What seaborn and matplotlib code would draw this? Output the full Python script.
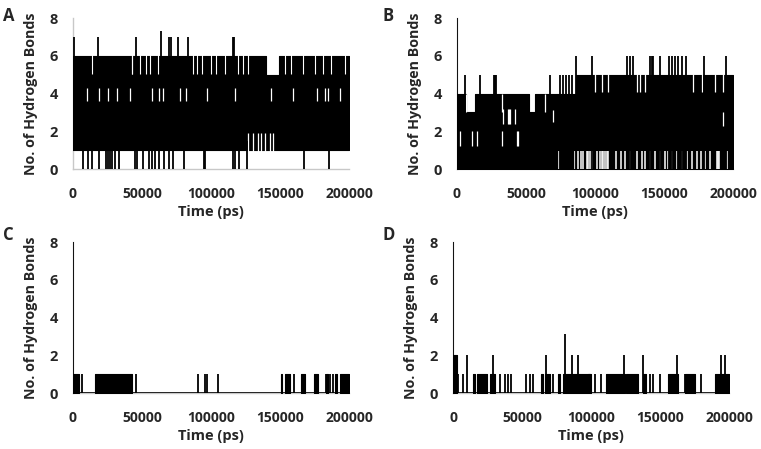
import numpy as np
import matplotlib
matplotlib.use("Agg")
import matplotlib.pyplot as plt
import seaborn as sns

# -----------------------------
# Values (time in ps, counts of H-bonds)
# -----------------------------
time_ticks = [0, 50000, 100000, 150000, 200000]
hb_ticks = [0, 2, 4, 6, 8]

# Panel A: dense band between low/high, spikes above, dips to zero, white gaps
a_band_start = [0, 139600, 149500]
a_band_end = [139600, 149500, 200000]
a_band_low = [1, 1, 1]
a_band_high = [6, 5, 6]
a_spike_t = [700, 18300, 45600, 64100, 69500, 71000, 76400, 83600, 115600, 116400]
a_spike_v = [7, 7, 7, 7.3, 7, 7, 7, 7, 7, 7]
a_dip_t = [7000, 11100, 13500, 19100, 23900, 25600, 26800, 28300, 30400, 33600,
           44900, 46200, 50500, 55100, 57500, 59400, 62500, 66200, 69800, 72700,
           80700, 95100, 95700, 116200, 117600, 120500, 125900, 167600, 185700]
a_gap_mid_t = [10400, 19100, 25600, 32100, 41300, 57000, 62500, 65000, 77500, 81900,
               96900, 117400, 143300, 159200, 176600, 182600, 185000, 193500]
a_gap_top_t = [13500, 42500, 43000, 48600, 52900, 55800, 61800, 86700, 89600, 93300,
               100200, 103900, 109900, 119600, 123200, 126800, 153400, 158200,
               166700, 175100, 181200, 187200, 196900]
a_gap_low_t = [126800, 130400, 134100, 136000, 139300, 142500, 144900]

# Panel B
b_band_start = [0, 6500, 13000, 52000, 56500, 86500]
b_band_end = [6500, 13000, 52000, 56500, 86500, 200000]
b_band_low = [0, 0, 0, 0, 0, 0]
b_band_high = [4, 3, 4, 3, 4, 5]
b_spike_t = [0, 5600, 16400, 26600, 27500, 28400, 67100, 74400, 77000, 79100, 81200,
             83600, 86500, 97600, 123500, 125400, 127800, 139900, 141100, 142300,
             147100, 153600, 155600, 158000, 160400, 162800, 166000, 179000, 194700]
b_spike_v = [8, 5, 5, 5, 5, 5, 5, 5, 5, 5, 5,
             5, 6, 6, 6, 6, 6, 6, 6, 6,
             6, 6, 6, 6, 6, 6, 6, 6, 6]
b_gap_top_t = [6500, 32400, 63500, 100000, 104800, 109700, 130200, 132600, 136200,
               171300, 177300, 187000, 193000]
b_gap_top_low = [3, 3, 3, 4.1, 4.1, 4.1, 4.1, 4.1, 4.1, 4.1, 4.1, 4.1, 4.1]
b_gap_top_high = [4, 4, 4, 5.1, 5.1, 5.1, 5.1, 5.1, 5.1, 5.1, 5.1, 5.1, 5.1]
b_gap_mid_t = [33600, 36900, 37700, 38500, 42000, 69800, 192500]
b_gap_mid_low = [2.4, 2.4, 2.4, 2.4, 2.4, 2.5, 2.3]
b_gap_mid_high = [3.2, 3.2, 3.2, 3.2, 3.2, 3.1, 3.0]
b_gap_low_t = [2200, 10600, 14300, 32400, 43400, 44000]
b_gap_base_t = [73900, 85300, 87500, 89600, 91500, 94000, 95200, 96400, 97800, 98000,
                101200, 103600, 104800, 106000, 107300, 108500, 109700, 115200, 118600,
                121700, 125400, 130700, 133800, 136200, 139900, 143500, 147100, 150700,
                153100, 155500, 159200, 162800, 166400, 170000, 173700, 176600, 179700,
                183300, 188700, 189400, 190100, 195400]

# Panel C: mostly zero, blocks/spikes at one bond
c_block_start = [0, 15900, 150700, 153600, 165200, 174900, 183600, 189600, 193300]
c_block_end = [4600, 42500, 151500, 157200, 167900, 177500, 184600, 191000, 199800]
c_spike_t = [0, 6300, 45400, 90600, 95600, 96900, 104800, 159800, 183300, 186200, 188400]
c_spike_v = [8, 1, 1, 1, 1, 1, 1, 1, 1, 1, 1]

# Panel D
d_block_start = [0, 14300, 17100, 26800, 63500, 66700, 76100, 79900, 97800, 111100,
                 125600, 137700, 155800, 167900, 189600]
d_block_end = [2700, 15900, 24400, 30400, 65500, 70300, 77800, 99300, 100200, 124400,
               134100, 140100, 163000, 175200, 200000]
d_block_v = [2, 1, 1, 1, 1, 1, 1, 1, 1, 1, 1, 1, 1, 1, 1]
d_spike_t = [0, 3600, 7000, 10400, 28700, 34100, 37700, 40000, 42000, 52900, 55700,
             57700, 67400, 72800, 81200, 86000, 90300, 102700, 107500, 124000, 137700,
             142500, 145000, 149800, 162300, 167900, 179900, 194000, 196900]
d_spike_v = [8, 1, 1, 2, 2, 1, 1, 1, 1, 1, 1,
             1, 2, 1, 3.1, 2, 2, 1, 1, 2, 2,
             1, 1, 1, 2, 1, 1, 2, 2]

t_range = [0, 200000]

# -----------------------------
# Figure
# -----------------------------
sns.set_style("white")
plt.rcParams['font.family'] = ['Open Sans', 'DejaVu Sans']
plt.rcParams['font.weight'] = 'bold'

fig = plt.figure(figsize=(7.61, 4.49), dpi=100)
axA = fig.add_axes([0.0959, 0.6236, 0.3627, 0.3363])
axB = fig.add_axes([0.6005, 0.6236, 0.3627, 0.3363])
axC = fig.add_axes([0.0959, 0.1247, 0.3627, 0.3363])
axD = fig.add_axes([0.5953, 0.1247, 0.3627, 0.3363])


def draw_band(ax, starts, ends, lows, highs):
    for s, e, lo, hi in zip(starts, ends, lows, highs):
        ax.fill_between([s, e], [lo, lo], [hi, hi], facecolor='black',
                        edgecolor='black', lw=0.8)


def draw_gaps(ax, ts, lows, highs, lw=0.9):
    ax.vlines(ts, lows, highs, color='white', lw=lw)


# Panel A
draw_band(axA, a_band_start, a_band_end, a_band_low, a_band_high)
draw_gaps(axA, a_gap_mid_t, 3.6, 4.3)
draw_gaps(axA, a_gap_top_t, 5.05, 6.3, lw=0.8)
draw_gaps(axA, a_gap_low_t, 0.9, 1.9)
axA.vlines(a_spike_t, 5.5, a_spike_v, color='black', lw=1.3)
axA.vlines(a_dip_t, 0, 1.5, color='black', lw=1.3)

# Panel B
draw_band(axB, b_band_start, b_band_end, b_band_low, b_band_high)
draw_gaps(axB, b_gap_top_t, b_gap_top_low, b_gap_top_high)
draw_gaps(axB, b_gap_mid_t, b_gap_mid_low, b_gap_mid_high)
draw_gaps(axB, b_gap_low_t, 1.2, 2.0)
draw_gaps(axB, b_gap_base_t, 0.02, 0.95, lw=1.1)
axB.vlines(b_spike_t, 0, b_spike_v, color='black', lw=1.3)

# Panel C
sns.lineplot(x=t_range, y=[0, 0], ax=axC, color='black', lw=1.2)
draw_band(axC, c_block_start, c_block_end, [0] * len(c_block_start), [1] * len(c_block_start))
axC.vlines(c_spike_t, 0, c_spike_v, color='black', lw=1.3)

# Panel D
sns.lineplot(x=t_range, y=[0, 0], ax=axD, color='black', lw=1.2)
draw_band(axD, d_block_start, d_block_end, [0] * len(d_block_start), d_block_v)
axD.vlines(d_spike_t, 0, d_spike_v, color='black', lw=1.3)

for ax in [axA, axB, axC, axD]:
    ax.set_xlim(t_range)
    ax.set_ylim(0, 8)
    ax.set_xticks(time_ticks)
    ax.set_yticks(hb_ticks)
    ax.set_xticklabels([str(t) for t in time_ticks], fontsize=10, fontweight='bold')
    ax.set_yticklabels([str(v) for v in hb_ticks], fontsize=10.5, fontweight='bold')
    ax.tick_params(axis='x', length=0, pad=13)
    ax.tick_params(axis='y', length=0, pad=11)
    ax.set_xlabel("Time (ps)", fontsize=10.5, fontweight='bold', labelpad=3)
    ax.set_ylabel("No. of Hydrogen Bonds", fontsize=10.3, fontweight='bold', labelpad=8)
    ax.grid(False)
    sns.despine(ax=ax)
    for side in ['left', 'bottom']:
        ax.spines[side].set_color('#c8c8c8')
        ax.spines[side].set_linewidth(1.0)
        ax.spines[side].set_zorder(0)

fig.text(0.004, 0.985, 'A', fontsize=12, fontweight='bold', va='top')
fig.text(0.503, 0.985, 'B', fontsize=12, fontweight='bold', va='top')
fig.text(0.004, 0.497, 'C', fontsize=12, fontweight='bold', va='top')
fig.text(0.503, 0.497, 'D', fontsize=12, fontweight='bold', va='top')

fig.savefig('out.png', dpi=100, facecolor='white')
